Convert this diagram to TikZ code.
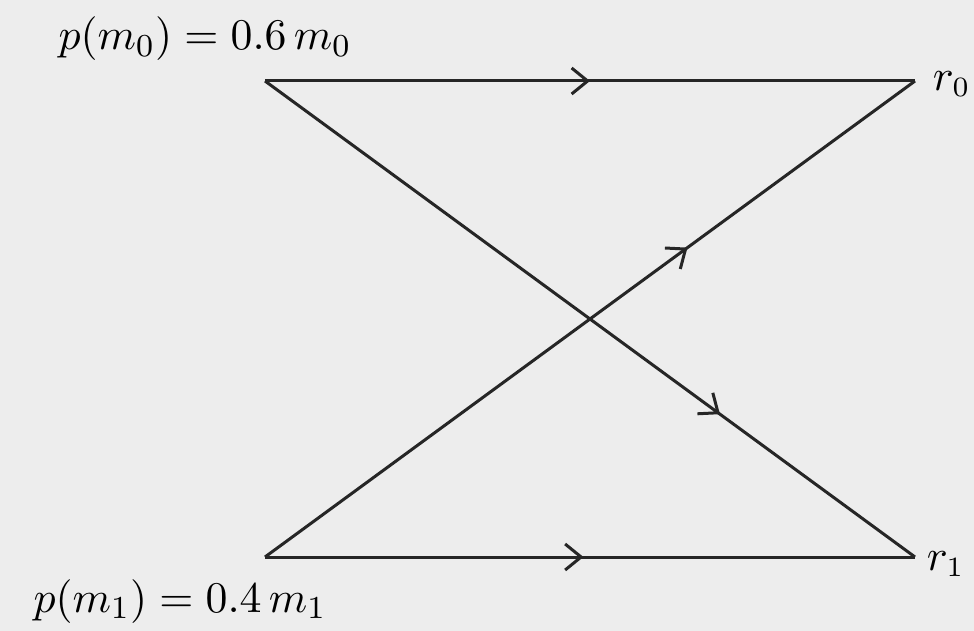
\documentclass[tikz,border=0pt]{standalone}
\usetikzlibrary{arrows.meta,decorations.markings}
\begin{document}
\begin{tikzpicture}[x=0.25pt,y=-0.25pt,
  edge/.style={line width=0.75pt,draw=black!85},
  midarrow/.style={postaction={decorate},decoration={markings,
     mark=at position #1 with {\arrow{Straight Barb[length=4pt,width=6.5pt,line width=0.75pt]}}}},
  lbl/.style={inner sep=0pt,font=\fontsize{11.4}{14}\selectfont},
  rlbl/.style={inner sep=0pt,font=\fontsize{10.5}{13}\selectfont}]
\fill[black!7] (0,0) rectangle (974,631);
\useasboundingbox (0,0) rectangle (974,631);
\coordinate (m0) at (265,81);
\coordinate (r0pt) at (915,81);
\coordinate (m1) at (265,557);
\coordinate (r1pt) at (915,557);
\node[lbl,anchor=base] (pm0) at (205,50) {$p(m_0) = 0.6\, m_0$};
\node[lbl,anchor=base] (pm1) at (180,612) {$p(m_1) = 0.4\, m_1$};
\node[rlbl,anchor=west] (r0) at (932,84) {$r_0$};
\node[rlbl,anchor=west] (r1) at (926,564) {$r_1$};
\draw[edge,midarrow=0.50] (m0) -- (r0pt);
\draw[edge,midarrow=0.49] (m1) -- (r1pt);
\draw[edge,midarrow=0.70] (m0) -- (r1pt);
\draw[edge,midarrow=0.65] (m1) -- (r0pt);
\end{tikzpicture}
\end{document}
